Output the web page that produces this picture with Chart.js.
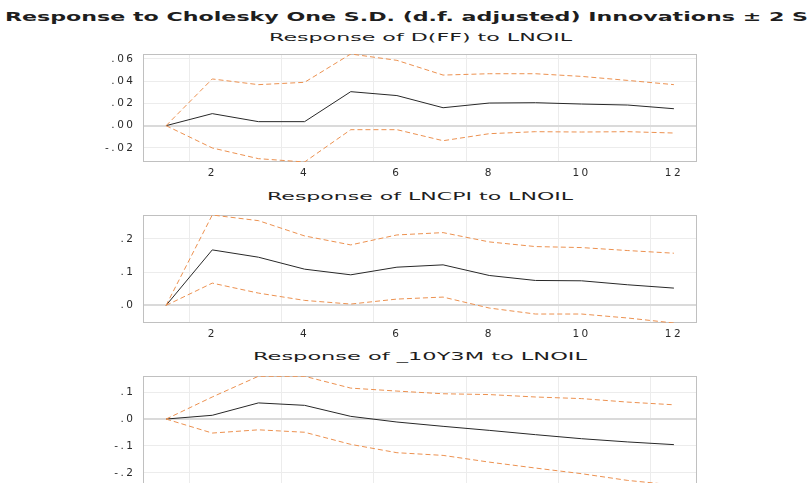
<!DOCTYPE html>
<html>
<head>
<meta charset="utf-8">
<script src="https://cdn.jsdelivr.net/npm/chart.js@4/dist/chart.umd.min.js"></script>
<style>
html,body{margin:0;padding:0;background:#fff;}
body{width:808px;height:483px;overflow:hidden;position:relative;}
.t{position:absolute;white-space:nowrap;font-family:"DejaVu Sans",sans-serif;color:#1e1e1e;line-height:1;transform-origin:0 50%;}
canvas{position:absolute;left:0;}
</style>
</head>
<body>
<div id="mainTitle" class="t" style="font-weight:bold;font-size:13px;"><span id="mainVis">Response to Cholesky One S.D. (d.f. adjusted) Innovations ± 2 S</span><span>.E.</span></div>
<div id="sub1" class="t" style="font-size:11px;">Response of D(FF) to LNOIL</div>
<div id="sub2" class="t" style="font-size:11px;">Response of LNCPI to LNOIL</div>
<div id="sub3" class="t" style="font-size:11px;">Response of _10Y3M to LNOIL</div>
<canvas id="c1" width="808" height="132" style="top:50px"></canvas>
<canvas id="c2" width="808" height="132" style="top:211px"></canvas>
<canvas id="c3" width="808" height="134" style="top:371px"></canvas>
<script>
// ---------- data ----------
const periods = ['1','2','3','4','5','6','7','8','9','10','11','12'];
const xTickLabels = ['', '2', '', '4', '', '6', '', '8', '', '10', '', '12'];

const dffResp  = [0, 0.0108, 0.0036, 0.0036, 0.0305, 0.0270, 0.0161, 0.0203, 0.0206, 0.0194, 0.0185, 0.0152];
const dffUpper = [0, 0.0419, 0.0368, 0.0389, 0.0643, 0.0586, 0.0454, 0.0466, 0.0466, 0.0442, 0.0406, 0.0368];
const dffLower = [0, -0.0200, -0.0296, -0.0326, -0.0036, -0.0036, -0.0135, -0.0072, -0.0054, -0.0057, -0.0054, -0.0066];
const dffTicks = [-0.02, 0, 0.02, 0.04, 0.06];
const dffTickLabels = ['-.02', '.00', '.02', '.04', '.06'];

const cpiResp  = [0, 0.167, 0.145, 0.109, 0.092, 0.115, 0.122, 0.090, 0.075, 0.074, 0.062, 0.052];
const cpiUpper = [0, 0.272, 0.255, 0.209, 0.182, 0.212, 0.219, 0.191, 0.177, 0.174, 0.165, 0.157];
const cpiLower = [0, 0.067, 0.037, 0.015, 0.004, 0.019, 0.025, -0.008, -0.026, -0.026, -0.038, -0.053];
const cpiTicks = [0, 0.1, 0.2];
const cpiTickLabels = ['.0', '.1', '.2'];

const sprResp  = [0, 0.014, 0.060, 0.051, 0.010, -0.011, -0.027, -0.042, -0.058, -0.073, -0.085, -0.095];
const sprUpper = [0, 0.082, 0.159, 0.159, 0.115, 0.104, 0.094, 0.091, 0.082, 0.076, 0.063, 0.053];
const sprLower = [0, -0.052, -0.040, -0.049, -0.094, -0.125, -0.135, -0.160, -0.182, -0.203, -0.228, -0.245];
const sprTicks = [-0.2, -0.1, 0, 0.1];
const sprTickLabels = ['-.2', '-.1', '.0', '.1'];

// ---------- titles ----------
function fitTitle(el, measureEl, left, width, centerY) {
  const w = measureEl.getBoundingClientRect().width;
  const h = el.getBoundingClientRect().height;
  el.style.left = left + 'px';
  el.style.top = (centerY - h / 2) + 'px';
  el.style.transform = 'scaleX(' + (width / w) + ')';
}
fitTitle(document.getElementById('mainTitle'), document.getElementById('mainVis'), 5, 803, 16);
fitTitle(document.getElementById('sub1'), document.getElementById('sub1'), 269, 303, 37);
fitTitle(document.getElementById('sub2'), document.getElementById('sub2'), 267, 306, 196);
fitTitle(document.getElementById('sub3'), document.getElementById('sub3'), 253, 334, 356);

// ---------- chart helpers ----------
const LS = '2.5px';
const spacingPlugin = {
  id: 'spacing',
  beforeLayout(chart) { chart.ctx.letterSpacing = LS; },
  beforeDraw(chart) { chart.ctx.letterSpacing = LS; }
};
const framePlugin = {
  id: 'frame',
  beforeDatasetsDraw(chart) {
    const { ctx, chartArea: a } = chart;
    ctx.save();
    ctx.strokeStyle = 'rgb(192,192,192)';
    ctx.lineWidth = 1;
    ctx.strokeRect(Math.round(a.left) + 0.5, Math.round(a.top) + 0.5,
                   Math.round(a.right - a.left) - 1, Math.round(a.bottom - a.top) - 1);
    ctx.restore();
  }
};

const ORANGE = 'rgb(236,145,80)';
const BLACK = 'rgb(40,40,40)';
const GRID = 'rgb(236,236,236)';
const ZERO = 'rgb(218,218,218)';
const TICK_FONT = { family: '"DejaVu Sans", sans-serif', size: 10.5 };

function makeChart(id, resp, upper, lower, yMin, yMax, yTicks, yLabels, padTop, plotH, canvasH) {
  const canvas = document.getElementById(id);
  return new Chart(canvas, {
    type: 'line',
    data: {
      labels: periods,
      datasets: [
        { data: upper, borderColor: ORANGE, borderWidth: 1, borderDash: [5, 3], pointRadius: 0, tension: 0, fill: false },
        { data: lower, borderColor: ORANGE, borderWidth: 1, borderDash: [5, 3], pointRadius: 0, tension: 0, fill: false },
        { data: resp, borderColor: BLACK, borderWidth: 1, pointRadius: 0, tension: 0, fill: false }
      ]
    },
    options: {
      responsive: false,
      animation: false,
      devicePixelRatio: 1,
      layout: { padding: { left: 0, right: 111, top: padTop, bottom: 0 } },
      plugins: { legend: { display: false }, tooltip: { enabled: false }, title: { display: false } },
      scales: {
        x: {
          type: 'category',
          offset: true,
          grid: {
            offset: true,
            drawTicks: false,
            color: (c) => (c.index % 2 === 1 && c.index < periods.length) ? GRID : 'rgba(0,0,0,0)',
            lineWidth: 1
          },
          border: { display: false },
          ticks: {
            autoSkip: false, maxRotation: 0, minRotation: 0, padding: 5,
            color: '#2a2a2a',
            font: TICK_FONT,
            callback: (v, i) => xTickLabels[i]
          },
          afterFit: (s) => { s.height = canvasH - padTop - plotH; s.paddingLeft = 0; s.paddingRight = 0; }
        },
        y: {
          min: yMin, max: yMax,
          afterBuildTicks: (s) => { s.ticks = yTicks.map(v => ({ value: v })); },
          grid: {
            drawTicks: false,
            color: (c) => (c.tick && c.tick.value === 0) ? ZERO : GRID,
            lineWidth: (c) => (c.tick && c.tick.value === 0) ? 2 : 1
          },
          border: { display: false },
          ticks: {
            padding: 7.5,
            color: '#2a2a2a',
            font: TICK_FONT,
            callback: (v, i) => yLabels[i]
          },
          afterFit: (s) => { s.width = 143; s.paddingTop = 0; s.paddingBottom = 0; }
        }
      }
    },
    plugins: [spacingPlugin, framePlugin]
  });
}

makeChart('c1', dffResp, dffUpper, dffLower, -0.0326, 0.0643, dffTicks, dffTickLabels, 4, 108, 132);
makeChart('c2', cpiResp, cpiUpper, cpiLower, -0.053, 0.272, cpiTicks, cpiTickLabels, 4, 108, 132);
makeChart('c3', sprResp, sprUpper, sprLower, -0.245, 0.16, sprTicks, sprTickLabels, 5, 109, 134);
</script>
</body>
</html>
